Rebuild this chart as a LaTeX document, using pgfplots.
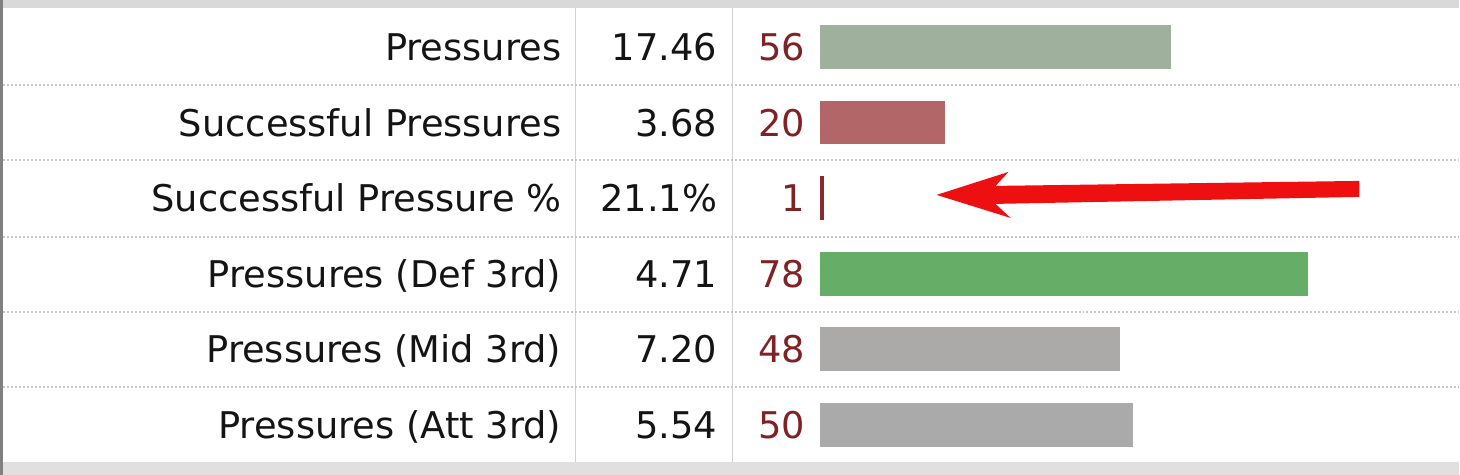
\documentclass[border=0pt]{standalone}
\usepackage{pgfplots}
\pgfplotsset{compat=1.18}
\usepackage{fontspec}
\setmainfont{DejaVu Sans}
\definecolor{cPress}{HTML}{9FB19C}
\definecolor{cSucc}{HTML}{B26668}
\definecolor{cPct}{HTML}{8B2A2E}
\definecolor{cDef}{HTML}{66AD68}
\definecolor{cMid}{HTML}{ACA9A9}
\definecolor{cAtt}{HTML}{AAAAAA}
\definecolor{cNum}{HTML}{7E2226}
\definecolor{cTxt}{HTML}{141414}
\definecolor{cArrow}{HTML}{EE1010}
\newcommand{\tf}{\fontsize{18.4}{22}\selectfont}
\begin{document}
\begin{tikzpicture}
\begin{scope}[x=0.5pt,y=-0.5pt]
\fill[white] (0,0) rectangle (1460,475);
\fill[black!15] (0,0) rectangle (1460,8);
\fill[black!12] (0,462) rectangle (1460,475);
\fill[black!50] (0,0) rectangle (3,475);
\draw[black!18, line width=0.6pt] (576,8) -- (576,462);
\draw[black!18, line width=0.6pt] (733,8) -- (733,462);
\foreach \yy in {85,160,237,312,387}
  \draw[black!22, line width=0.7pt, dash pattern=on 1pt off 1pt] (3,\yy) -- (1460,\yy);
\end{scope}
\begin{axis}[at={(0,0)}, anchor=north west, scale only axis,
  width=730pt, height=237.5pt,
  xmin=-130.78, xmax=102.07, ymin=-0.6217, ymax=5.661, y dir=reverse,
  hide axis, clip=false]
\addplot[xbar, bar shift=0pt, bar width=0.58, fill=cPress, draw=none] coordinates {(56,0)};
\addplot[xbar, bar shift=0pt, bar width=0.58, fill=cSucc, draw=none] coordinates {(20,1)};
\addplot[xbar, bar shift=0pt, bar width=0.58, fill=cPct, draw=none] coordinates {(0.7,2)};
\addplot[xbar, bar shift=0pt, bar width=0.58, fill=cDef, draw=none] coordinates {(78,3)};
\addplot[xbar, bar shift=0pt, bar width=0.58, fill=cMid, draw=none] coordinates {(48,4)};
\addplot[xbar, bar shift=0pt, bar width=0.58, fill=cAtt, draw=none] coordinates {(50,5)};
\end{axis}
\begin{scope}[x=0.5pt,y=-0.5pt]
\foreach \lab/\val/\pct [count=\i from 0] in {
  Pressures/17.46/56,
  Successful Pressures/3.68/20,
  Successful Pressure \%/21.1\%/1,
  Pressures (Def 3rd)/4.71/78,
  Pressures (Mid 3rd)/7.20/48,
  Pressures (Att 3rd)/5.54/50}{
  \pgfmathsetmacro{\yb}{47+75.6*\i+13.5}
  \node[anchor=base east, inner sep=0pt, font=\tf, text=cTxt] at (562,\yb) {\lab};
  \node[anchor=base east, inner sep=0pt, font=\tf, text=cTxt] at (718,\yb) {\val};
  \node[anchor=base east, inner sep=0pt, font=\tf, text=cNum] at (806,\yb) {\pct};
}
\fill[cArrow] (937,195) -- (1009,172) -- (996,186) -- (1360,181) -- (1360,197) -- (996,204) -- (1011,218) -- cycle;
\end{scope}
\end{tikzpicture}
\end{document}
